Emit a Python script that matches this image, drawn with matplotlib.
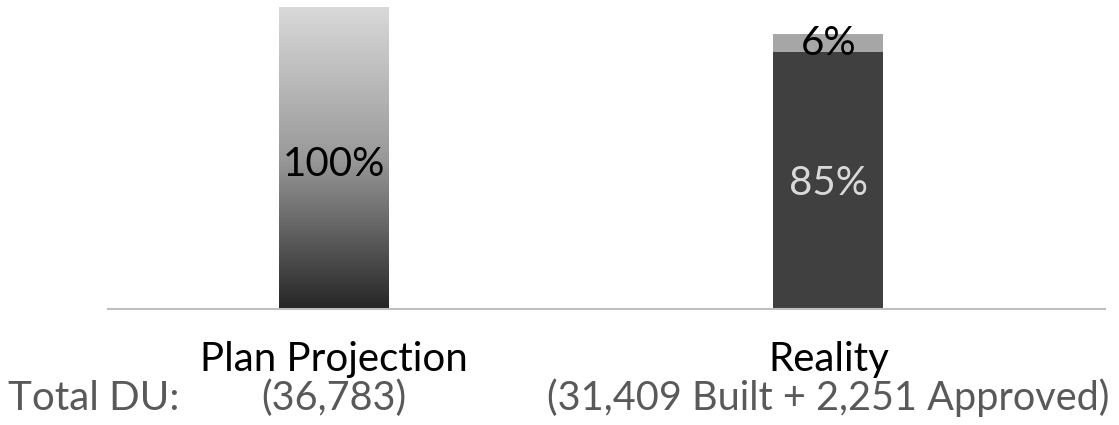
import numpy as np
import matplotlib
matplotlib.use("Agg")
from matplotlib import pyplot as plt
from matplotlib.transforms import blended_transform_factory

categories = ["Plan Projection", "Reality"]
subtitles = ["(36,783)", "(31,409 Built + 2,251 Approved)"]
plan_share = [1.00, 0.0]
built_share = [0.0, 0.85]
approved_share = [0.0, 0.06]
row_label = "Total DU:"

plt.rcParams['font.family'] = ['Lato', 'DejaVu Sans']

fig = plt.figure(figsize=(11.19, 4.25), dpi=100)
ax = fig.add_axes([108 / 1119, 116 / 425, 997 / 1119, 302 / 425])

x = np.arange(len(categories))
width = 0.222

# plan bar with vertical gradient
plan_bars = ax.bar(x[:1], plan_share[:1], width, color='none', edgecolor='none')
bar = plan_bars[0]
grad = np.linspace(0, 1, 256).reshape(-1, 1)
cmap = matplotlib.colors.LinearSegmentedColormap.from_list(
    'g', [(0, '#262626'), (0.5, '#999999'), (1, '#d9d9d9')])
img = ax.imshow(grad, cmap=cmap, aspect='auto', origin='lower',
                extent=[bar.get_x(), bar.get_x() + bar.get_width(), 0, bar.get_height()])
img.set_clip_path(bar)

# reality stacked bar
ax.bar(x[1:], built_share[1:], width, color='#404040')
ax.bar(x[1:], approved_share[1:], width, bottom=built_share[1:], color='#a6a6a6')

ax.text(x[0], plan_share[0] / 2 - 0.02, "100%", ha='center', va='center', fontsize=29, color='black')
ax.text(x[1], built_share[1] / 2 - 0.01, "85%", ha='center', va='center', fontsize=29, color='#d9d9d9')
ax.text(x[1], built_share[1] + approved_share[1] / 2, "6%", ha='center', va='center',
        fontsize=29, color='black')

ax.set_xlim(-0.456, 1.559)
ax.set_ylim(0, 1)
ax.set_xticks(x)
ax.set_xticklabels(categories, fontsize=29, color='black')
ax.tick_params(axis='x', length=0, pad=23)
ax.set_yticks([])
for side in ['top', 'right', 'left']:
    ax.spines[side].set_visible(False)
ax.spines['bottom'].set_color('#bfbfbf')
ax.spines['bottom'].set_linewidth(1.5)

trans = blended_transform_factory(ax.transData, fig.transFigure)
for xi, sub in zip(x, subtitles):
    ax.text(xi, 15 / 425, sub, transform=trans, ha='center', va='baseline',
            fontsize=28.5, color='#595959')
fig.text(8 / 1119, 15 / 425, row_label, ha='left', va='baseline', fontsize=29, color='#595959')

fig.savefig("out.png", dpi=100)
